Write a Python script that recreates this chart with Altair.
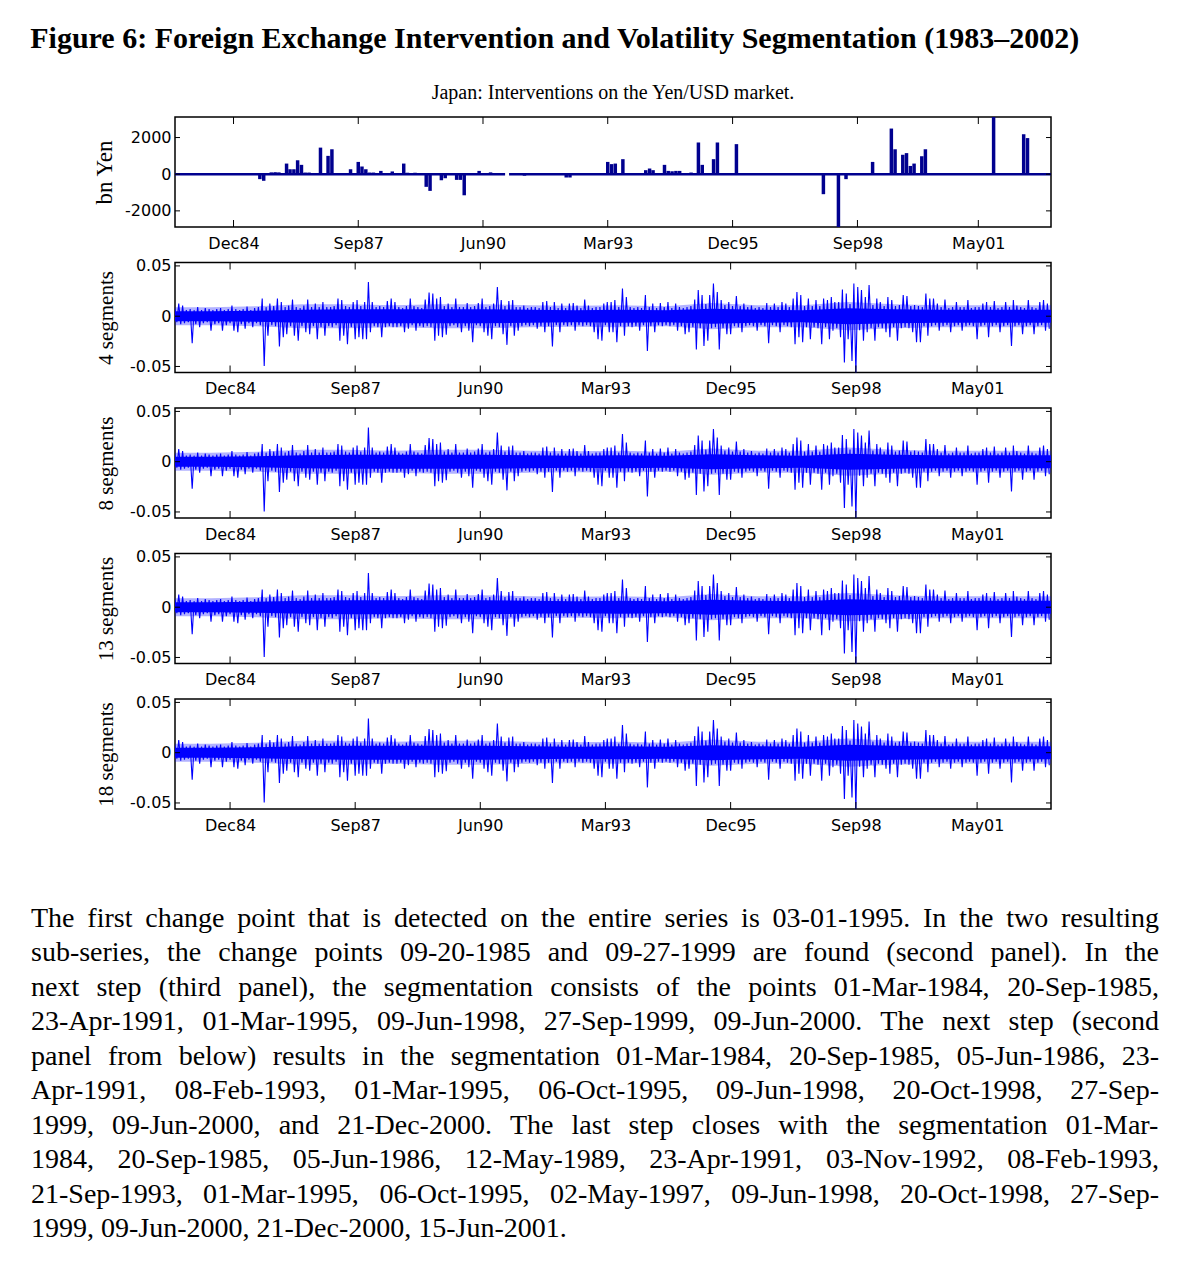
import altair as alt
import pandas as pd

# ---------------------------------------------------------------- data
TITLE = "Figure 6: Foreign Exchange Intervention and Volatility Segmentation (1983\u20132002)"
SUBTITLE = "Japan: Interventions on the Yen/USD market."
PANEL_TITLES = ["bn Yen", "4 segments", "8 segments", "13 segments", "18 segments"]
TICK_DATES = ["1984-12-01", "1987-09-01", "1990-06-01", "1993-03-01",
              "1995-12-01", "1998-09-01", "2001-05-01"]
X_DOMAIN_TOP = ["1983-08-18", "2002-12-07"]
X_DOMAIN_RET = ["1983-09-16", "2002-12-15"]
Y_DOMAIN_TOP = [-2880, 3120]
Y_TICKS_TOP = [-2000, 0, 2000]
Y_DOMAIN_RET = [-0.056, 0.0534]
Y_TICKS_RET = [-0.05, 0, 0.05]

# monthly interventions (bn Yen)
INTERV_MONTHS = ["1985-07", "1985-08", "1985-10", "1985-11", "1985-12", "1986-02", "1986-03",
                 "1986-04", "1986-05", "1986-06", "1986-07", "1986-08", "1986-11", "1987-01",
                 "1987-02", "1987-07", "1987-09", "1987-10", "1987-11", "1987-12", "1988-01",
                 "1988-03", "1988-06", "1988-09", "1988-10", "1988-12", "1989-03", "1989-04",
                 "1989-07", "1989-08", "1989-11", "1989-12", "1990-01", "1990-05", "1990-08",
                 "1991-05", "1992-04", "1992-05", "1993-03", "1993-04", "1993-05", "1993-07",
                 "1994-01", "1994-02", "1994-03", "1994-06", "1994-07", "1994-08", "1994-09",
                 "1994-10", "1995-01", "1995-03", "1995-04", "1995-07", "1995-08", "1996-01",
                 "1997-12", "1998-04", "1998-06", "1999-01", "1999-06", "1999-07", "1999-09",
                 "1999-10", "1999-11", "1999-12", "2000-02", "2000-03", "2001-09", "2002-05",
                 "2002-06"]
INTERV_VALUES = [-270, -360, 100, 110, 100, 580, 270,
                 270, 760, 510, 90, 90, 1450, 1000,
                 1360, 270, 670, 420, 270, 90, 90,
                 180, 150, 580, 80, 80, -690, -910,
                 -330, -220, -310, -310, -1150, 180, 100,
                 -80, -180, -180, 670, 550, 580, 820,
                 220, 310, 220, 510, 180, 160, 180,
                 180, 90, 1730, 510, 820, 1730, 1640,
                 -1090, -3000, -270, 670, 2490, 1360, 1060,
                 1150, 450, 580, 980, 1360, 3300, 2180,
                 1970]
BASELINE_START = ["1983-08-18", "1990-12-28"]
BASELINE_END = ["1990-11-26", "2002-12-07"]

# Yen/USD returns, read as alternating half-month highs / lows (units of 1e-3)
RET_1983 = [7, -6, 12.5, -8, 10.5, -7, 6]
RET_1984 = [-6, 7, -27, 6, -8, 9, -11, 6, -7, 8, -6, 7, -14.5, 6, -8, 7, -7, 8, -14.5, 6, -9, 7, -7, 10.5]
RET_1985 = [-14.5, 7, -16, 6, -8, 7, -12.5, 9.5, -7, 6, -11, 8, -7, 9, -9, 17.5, -49.5, 9, -19.5, 12.5, -9, 10, -10, 17.5]
RET_1986 = [-30, 14, -21, 9, -18, 10.5, -10, 16.5, -19.5, 9, -24.5, 8, -10, 10.5, -16, 16.5, -18, 9, -10, 12.5, -23, 9, -11, 14]
RET_1987 = [-19.5, 9, -10, 9, -11, 10, -9, 17.5, -24.5, 16, -19.5, 10, -28, 9, -11, 14, -23, 16, -21, 10, -23, 14, -23, 34]
RET_1988 = [-16, 14, -10, 9, -11, 10, -21, 9, -11, 15, -10, 17.5, -11, 14, -11, 9, -10, 8, -16, 10, -12.5, 17.5, -9, 10]
RET_1989 = [-14.5, 9, -10, 8, -11, 16.5, -10, 23.5, -11, 22.5, -24.5, 17.5, -19.5, 19, -21, 10, -18.5, 12.5, -10, 9, -9, 17.5, -11, 9]
RET_1990 = [-16, 9, -10, 13, -14.5, 9, -26, 10, -9, 13, -10, 17.5, -16, 9, -19.5, 10, -23, 12.5, -10, 29, -11, 16, -18, 10]
RET_1991 = [-28.5, 15, -10, 16, -19.5, 9, -14.5, 9, -10, 10.5, -9, 8, -10, 9, -9, 9, -12.5, 8, -10, 14, -16, 15, -10, 9]
RET_1992 = [-30, 14, -9, 8, -16, 12.5, -9, 8, -10, 12.5, -9, 13, -14.5, 10.5, -9, 8, -10, 16.5, -9, 10.5, -10, 8, -16, 9]
RET_1993 = [-23, 9, -24.5, 12.5, -9, 14, -16, 14, -16, 16, -26, 9, -10, 27.5, -19.5, 19, -10, 9, -11, 8, -10, 9, -14.5, 8]
RET_1994 = [-9, 21, -34.5, 9, -10, 12.5, -16, 8, -9, 13, -10, 9, -9, 14, -10, 8, -9, 12.5, -14.5, 9, -10, 8, -18, 9]
RET_1995 = [-16, 10, -11, 16.5, -33, 26, -12, 21, -29.5, 12, -24.5, 21, -12, 32.5, -11, 24, -33, 16, -12, 11, -18, 14, -18, 10]
RET_1996 = [-10, 20, -11, 10, -16, 12.5, -10, 9, -9, 10.5, -10, 8, -14.5, 9, -9, 8, -10, 13, -27, 9, -9, 12.5, -10, 9]
RET_1997 = [-16, 14, -9, 12.5, -10, 9, -11, 17.5, -28, 24, -21, 21, -26, 10, -11, 17.5, -23, 10, -11, 16, -12, 10, -28, 17.5]
RET_1998 = [-11, 16, -23, 19, -14.5, 14, -12, 14, -21, 26.5, -46, 22.5, -23, 12, -44.5, 32.5, -57, 29, -14, 26, -24.5, 19, -16, 31]
RET_1999 = [-12, 11, -24.5, 17.5, -11, 14, -12, 10, -16, 19, -21, 16, -11, 10, -24.5, 11, -12, 21, -11, 20, -12, 10, -16, 11]
RET_2000 = [-26, 10, -26, 9, -10, 22.5, -19.5, 17.5, -10, 17.5, -9, 12.5, -14.5, 9, -10, 16.5, -9, 8, -16, 9, -10, 14, -9, 9]
RET_2001 = [-14.5, 9, -10, 16, -9, 8, -10, 9, -23, 9, -10, 12.5, -9, 14, -21, 9, -10, 15, -9, 8, -16, 9, -10, 14]
RET_2002 = [-9, 9, -29.5, 16, -10, 10.5, -9, 9, -18, 8, -10, 16, -9, 9, -18, 8, -10, 14, -9, 16, -14.5, 12.5, -12.5]

# per-year half-widths (units of 1e-3): dense core, and the zone of frequent smaller moves
CORE_DATES = ["1983-09-16", "1984-07-01", "1985-07-01", "1986-07-01", "1987-07-01", "1988-07-01",
              "1989-07-01", "1990-07-01", "1991-07-01", "1992-07-01", "1993-07-01", "1994-07-01",
              "1995-07-01", "1996-07-01", "1997-07-01", "1998-07-01", "1999-07-01", "2000-07-01",
              "2001-07-01", "2002-07-01", "2002-12-15"]
CORE_HALF = [5, 5, 5.5, 6.5, 7, 7, 7, 7, 6.5, 6, 6.5, 6, 7.5, 6.5, 6, 8, 7, 6.5, 6.5, 6.5, 6.5]
HAIR_HALF = [9, 9, 10, 12, 12, 11, 12, 12, 11, 10.5, 11, 10, 13, 11, 11, 14, 12, 11, 11, 11, 11]

PARA_LINES = [
    "The first change point that is detected on the entire series is 03-01-1995. In the two resulting",
    "sub-series, the change points 09-20-1985 and 09-27-1999 are found (second panel). In the",
    "next step (third panel), the segmentation consists of the points 01-Mar-1984, 20-Sep-1985,",
    "23-Apr-1991, 01-Mar-1995, 09-Jun-1998, 27-Sep-1999, 09-Jun-2000. The next step (second",
    "panel from below) results in the segmentation 01-Mar-1984, 20-Sep-1985, 05-Jun-1986, 23-",
    "Apr-1991, 08-Feb-1993, 01-Mar-1995, 06-Oct-1995, 09-Jun-1998, 20-Oct-1998, 27-Sep-",
    "1999, 09-Jun-2000, and 21-Dec-2000. The last step closes with the segmentation 01-Mar-",
    "1984, 20-Sep-1985, 05-Jun-1986, 12-May-1989, 23-Apr-1991, 03-Nov-1992, 08-Feb-1993,",
    "21-Sep-1993, 01-Mar-1995, 06-Oct-1995, 02-May-1997, 09-Jun-1998, 20-Oct-1998, 27-Sep-",
    "1999, 09-Jun-2000, 21-Dec-2000, 15-Jun-2001.",
]

# ---------------------------------------------------------------- style / layout
W, H = 876, 110
SPACING = 35.5
NAVY = "#00008f"
BLUE = "#0000ff"
TICK_V = 7     # inward tick length of x ticks
TICK_H = 5     # inward tick length of y ticks
PARA_FS = 28
PARA_WIDTH = 1128
PARA_OFFSET = 144          # paragraph starts this far left of the plot origin
PARA_LS = 34.5
PARA_FIRST = 82
PARA_H = 420

# Times / Liberation Serif advance widths (1/1000 em)
TIMES_W = {" ": 250, ",": 250, "-": 333, ".": 250, "(": 333, ")": 333, ":": 278,
           "0": 500, "1": 500, "2": 500, "3": 500, "4": 500, "5": 500, "6": 500,
           "7": 500, "8": 500, "9": 500,
           "A": 722, "B": 667, "C": 667, "D": 722, "E": 611, "F": 556, "G": 722, "H": 722,
           "I": 333, "J": 389, "K": 722, "L": 611, "M": 889, "N": 722, "O": 722, "P": 556,
           "Q": 722, "R": 667, "S": 556, "T": 611, "U": 722, "V": 722, "W": 944, "X": 722,
           "Y": 722, "Z": 611,
           "a": 444, "b": 500, "c": 444, "d": 500, "e": 444, "f": 333, "g": 500, "h": 500,
           "i": 278, "j": 278, "k": 500, "l": 278, "m": 778, "n": 500, "o": 500, "p": 500,
           "q": 500, "r": 333, "s": 389, "t": 278, "u": 500, "v": 500, "w": 722, "x": 500,
           "y": 500, "z": 444}


def tw(s, size):
    return sum(TIMES_W.get(c, 500) for c in s) * size / 1000.0


def dt(s):
    y, m, d = (int(p) for p in s.split("-"))
    return alt.DateTime(year=y, month=m, date=d)


TICK_DT = [dt(s) for s in TICK_DATES]

x_axis = alt.Axis(values=TICK_DT, format="%b%y", labelPadding=8, title=None,
                  labelFont="DejaVu Sans", labelFontSize=16, labelColor="black",
                  ticks=False, domain=False, grid=False)


def x_enc(field, domain):
    return alt.X(field, type="temporal",
                 scale=alt.Scale(domain=[dt(s) for s in domain], nice=False),
                 axis=x_axis, title=None)


def y_axis(title, tfs, label_expr):
    return alt.Axis(values=Y_TICKS_TOP if title == "bn Yen" else Y_TICKS_RET,
                    labelExpr=label_expr, labelPadding=4, minExtent=53, maxExtent=53,
                    labelFont="DejaVu Sans", labelFontSize=16, labelColor="black",
                    title=title, titleFont="Liberation Serif", titleFontSize=tfs,
                    titleFontWeight="normal", titleColor="black", titlePadding=6,
                    ticks=False, domain=False, grid=False)


TOP_LABELS = "datum.value < 0 ? '-' + format(-datum.value, 'd') : format(datum.value, 'd')"
RET_LABELS = ("datum.value == 0 ? '0' : (datum.value < 0 ? '-' + format(-datum.value, '.2f') "
              ": format(datum.value, '.2f'))")


def y_enc(field, domain, axis, title):
    return alt.Y(field, type="quantitative",
                 scale=alt.Scale(domain=domain, nice=False, zero=False),
                 axis=axis, title=title)


def frame_ticks(x_domain, y_domain, y_ticks, axis, title):
    tdf = pd.DataFrame({"d": pd.to_datetime(TICK_DATES)})
    ydf = pd.DataFrame({"v": y_ticks})
    top = alt.Chart(tdf).mark_rule(color="black", strokeWidth=1).encode(
        x=x_enc("d", x_domain), y=alt.value(0), y2=alt.value(TICK_V))
    bottom = alt.Chart(tdf).mark_rule(color="black", strokeWidth=1).encode(
        x=x_enc("d", x_domain), y=alt.value(H - TICK_V), y2=alt.value(H))
    left = alt.Chart(ydf).mark_rule(color="black", strokeWidth=1).encode(
        y=y_enc("v", y_domain, axis, title), x=alt.value(0), x2=alt.value(TICK_H))
    right = alt.Chart(ydf).mark_rule(color="black", strokeWidth=1).encode(
        y=y_enc("v", y_domain, axis, title), x=alt.value(W - TICK_H), x2=alt.value(W))
    return [top, bottom, left, right]


# ---------------------------------------------------------------- top panel
bars_df = pd.DataFrame({"month": INTERV_MONTHS, "value": INTERV_VALUES})
mstart = pd.to_datetime(bars_df["month"] + "-01")
bars_df["start"] = mstart - pd.Timedelta(days=14)
bars_df["end"] = mstart + pd.Timedelta(days=14)
bars_df["zero"] = 0

base_df = pd.DataFrame({"s": pd.to_datetime(BASELINE_START),
                        "e": pd.to_datetime(BASELINE_END), "zero": 0})

top_axis = y_axis("bn Yen", 23, TOP_LABELS)
baseline = alt.Chart(base_df).mark_rule(color=NAVY, strokeWidth=2.5).encode(
    x=x_enc("s", X_DOMAIN_TOP), x2="e:T",
    y=y_enc("zero", Y_DOMAIN_TOP, top_axis, "bn Yen"))
bars = alt.Chart(bars_df).mark_rect(color=NAVY, clip=True).encode(
    x=x_enc("start", X_DOMAIN_TOP), x2="end:T",
    y=y_enc("value", Y_DOMAIN_TOP, top_axis, "bn Yen"), y2="zero:Q")

top_panel = alt.layer(
    baseline, bars, *frame_ticks(X_DOMAIN_TOP, Y_DOMAIN_TOP, Y_TICKS_TOP, top_axis, "bn Yen")
).properties(
    width=W, height=H,
    title=alt.TitleParams(SUBTITLE, font="Liberation Serif", fontSize=20, fontWeight="normal",
                          color="black", anchor="middle", frame="group",
                          baseline="alphabetic", offset=-2))

# ---------------------------------------------------------------- return panels
ret_vals = (RET_1983 + RET_1984 + RET_1985 + RET_1986 + RET_1987 + RET_1988 + RET_1989 +
            RET_1990 + RET_1991 + RET_1992 + RET_1993 + RET_1994 + RET_1995 + RET_1996 +
            RET_1997 + RET_1998 + RET_1999 + RET_2000 + RET_2001 + RET_2002)
ret_dates = []
for k in range(len(ret_vals)):
    mi = 8 + (k + 1) // 2
    yy = 1983 + mi // 12
    mm = mi % 12 + 1
    dd = 16 if k % 2 == 0 else 1
    ret_dates.append(pd.Timestamp(year=yy, month=mm, day=dd))
ret_df = pd.DataFrame({"date": ret_dates, "r": [v / 1000.0 for v in ret_vals]})

band_df = pd.DataFrame({"date": pd.to_datetime(CORE_DATES),
                        "hi": [v / 1000.0 for v in CORE_HALF],
                        "lo": [-v / 1000.0 for v in CORE_HALF],
                        "hhi": [v / 1000.0 for v in HAIR_HALF],
                        "hlo": [-v / 1000.0 for v in HAIR_HALF]})


def return_panel(title):
    ax = y_axis(title, 21, RET_LABELS)
    haze = alt.Chart(band_df).mark_area(color=BLUE, opacity=0.3, clip=True).encode(
        x=x_enc("date", X_DOMAIN_RET),
        y=y_enc("hhi", Y_DOMAIN_RET, ax, title), y2="hlo:Q")
    core = alt.Chart(band_df).mark_area(color=BLUE, opacity=1, clip=True).encode(
        x=x_enc("date", X_DOMAIN_RET),
        y=y_enc("hi", Y_DOMAIN_RET, ax, title), y2="lo:Q")
    line = alt.Chart(ret_df).mark_line(color=BLUE, strokeWidth=1.1, clip=True).encode(
        x=x_enc("date", X_DOMAIN_RET),
        y=y_enc("r", Y_DOMAIN_RET, ax, title))
    return alt.layer(haze, core, line,
                     *frame_ticks(X_DOMAIN_RET, Y_DOMAIN_RET, Y_TICKS_RET, ax, title)
                     ).properties(width=W, height=H)


ret_panels = [return_panel(t) for t in PANEL_TITLES[1:]]

# ---------------------------------------------------------------- paragraph
rows = []
for i, line in enumerate(PARA_LINES):
    words = line.split(" ")
    widths = [tw(w, PARA_FS) for w in words]
    if i < len(PARA_LINES) - 1 and len(words) > 1:
        gap = (PARA_WIDTH - sum(widths)) / (len(words) - 1)
    else:
        gap = tw(" ", PARA_FS)
    x = 0.0
    for w, wd in zip(words, widths):
        rows.append({"word": w, "xpos": x, "line": i})
        x += wd + gap
words_df = pd.DataFrame(rows)

d0 = -PARA_FIRST / PARA_LS
para = alt.Chart(words_df).mark_text(
    align="left", baseline="alphabetic", font="Liberation Serif",
    fontSize=PARA_FS, color="black").encode(
    x=alt.X("xpos:Q", scale=alt.Scale(domain=[PARA_OFFSET, W + PARA_OFFSET], nice=False, zero=False),
            axis=None),
    y=alt.Y("line:Q", scale=alt.Scale(domain=[d0, d0 + PARA_H / PARA_LS], reverse=True,
                                      nice=False, zero=False), axis=None),
    text="word:N",
).properties(width=W, height=PARA_H, view=alt.ViewBackground(stroke="transparent"))

# ---------------------------------------------------------------- assemble
chart = alt.vconcat(top_panel, *ret_panels, para, spacing=SPACING, bounds="flush").properties(
    title=alt.TitleParams(TITLE, anchor="start", font="Liberation Serif", fontSize=30,
                          fontWeight="bold", color="black", offset=28),
    padding={"left": 22, "top": 15, "right": 8, "bottom": 8},
    background="white",
).configure_view(stroke="black", strokeWidth=1.5)

chart.save("out.html", embed_options={"renderer": "svg", "actions": False})
